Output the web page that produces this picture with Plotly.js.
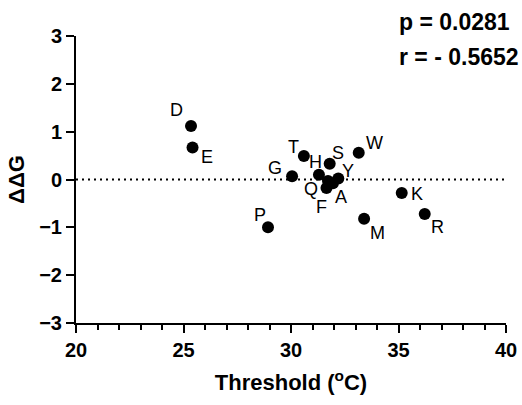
<!DOCTYPE html>
<html>
<head>
<meta charset="utf-8">
<script src="https://cdn.plot.ly/plotly-3.0.1.min.js"></script>
<style>html,body{margin:0;padding:0;background:#fff;}#chart{width:522px;height:405px;}</style>
</head>
<body>
<div id="chart"></div>
<script>
// Data
var residues  = ["D", "E", "P", "G", "T", "H", "S", "W", "Y", "A", "Q", "F", "M", "K", "R"];
var threshold = [25.35, 25.42, 28.93, 30.05, 30.6, 31.3, 31.8, 33.15, 32.2, 31.95, 31.72, 31.65, 33.4, 35.15, 36.22];
var ddG       = [1.12, 0.67, -1.0, 0.07, 0.49, 0.10, 0.33, 0.56, 0.02, -0.08, -0.03, -0.18, -0.82, -0.28, -0.72];
var statsText = ["p = 0.0281", "r = - 0.5652"];

// Label placement (pixel offsets of each label from its point)
var labelOffsets = {
  D: [-15, -16], E: [14, 10], P: [-8, -12], G: [-17, -8], T: [-10, -9],
  H: [-3, -13], S: [8, -11], W: [16, -10], Y: [10, -8], A: [8, 14],
  Q: [-17, 8], F: [-5, 19], M: [13, 14], K: [15, 1], R: [13, 13]
};

var FONT = "Liberation Sans, Arial, sans-serif";

var trace = {
  type: "scatter",
  mode: "markers",
  x: threshold,
  y: ddG,
  marker: {color: "#000", size: 12},
  hoverinfo: "skip",
  cliponaxis: false
};

var annotations = residues.map(function (r, i) {
  var off = labelOffsets[r];
  return {
    x: threshold[i], y: ddG[i], xref: "x", yref: "y",
    text: r, showarrow: false,
    xshift: off[0], yshift: -off[1],
    xanchor: "center", yanchor: "middle",
    font: {family: FONT, size: 18, color: "#000"}
  };
});

annotations.push({
  xref: "paper", yref: "paper", x: 0.7465, y: 1.049,
  xanchor: "left", yanchor: "middle", showarrow: false,
  text: "<b>" + statsText[0] + "</b>",
  font: {family: FONT, size: 23, color: "#000"}
});
annotations.push({
  xref: "paper", yref: "paper", x: 0.7465, y: 0.927,
  xanchor: "left", yanchor: "middle", showarrow: false,
  text: "<b>" + statsText[1] + "</b>",
  font: {family: FONT, size: 23, color: "#000"}
});

var layout = {
  width: 522, height: 405,
  margin: {l: 76, r: 16, t: 36, b: 82},
  paper_bgcolor: "#fff", plot_bgcolor: "#fff",
  showlegend: false,
  xaxis: {
    range: [20, 40], dtick: 5, tick0: 20,
    showgrid: false, zeroline: false,
    showline: true, linecolor: "#000", linewidth: 2,
    ticks: "outside", ticklen: 8, tickwidth: 2, tickcolor: "#000",
    minor: {dtick: 1, ticks: "outside", ticklen: 5, tickwidth: 2, tickcolor: "#000", showgrid: false},
    tickfont: {family: FONT, size: 20, color: "#000", weight: "bold"},
    title: {text: "<b>Threshold (<sup>o</sup>C)</b>", font: {family: FONT, size: 22, color: "#000"}, standoff: 15},
    fixedrange: true
  },
  yaxis: {
    range: [-3, 3], dtick: 1, tick0: 0,
    showgrid: false, zeroline: false,
    showline: true, linecolor: "#000", linewidth: 2,
    ticks: "outside", ticklen: 8, tickwidth: 2, tickcolor: "#000",
    tickfont: {family: FONT, size: 20, color: "#000", weight: "bold"},
    title: {text: "<b>ΔΔG</b>", font: {family: FONT, size: 22, color: "#000"}, standoff: 8},
    fixedrange: true
  },
  shapes: [{
    type: "line", xref: "x", yref: "y", x0: 20, x1: 40, y0: 0, y1: 0,
    line: {color: "#000", width: 2, dash: "2px,4px"}
  }],
  annotations: annotations
};

Plotly.newPlot("chart", [trace], layout, {displayModeBar: false, staticPlot: true});
</script>
</body>
</html>
